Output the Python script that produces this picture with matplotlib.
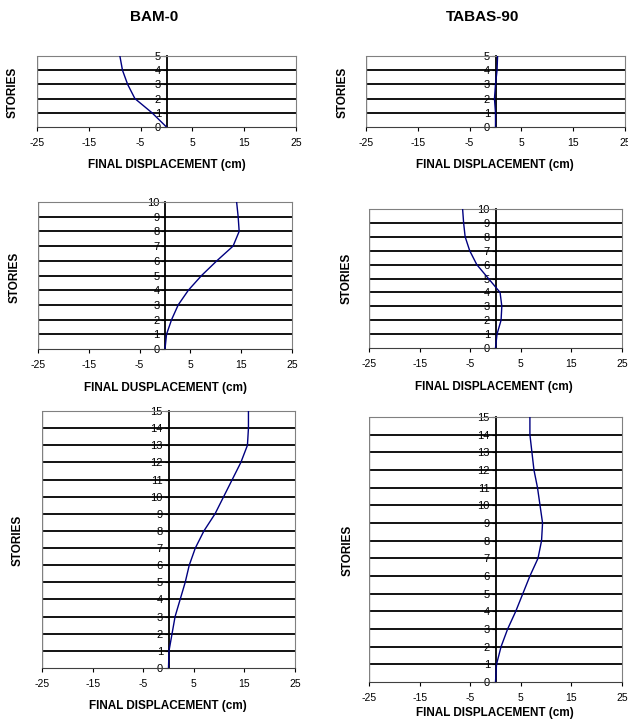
import matplotlib.pyplot as plt
import numpy as np

plt.rcParams['font.family'] = ['Liberation Sans', 'DejaVu Sans']

# story levels
stories5 = [0, 1, 2, 3, 4, 5]
stories10 = [0, 1, 2, 3, 4, 5, 6, 7, 8, 9, 10]
stories15 = [0, 1, 2, 3, 4, 5, 6, 7, 8, 9, 10, 11, 12, 13, 14, 15]

# final displacement (cm)
bam_5 = [0, -2.8, -6.1, -7.5, -8.5, -9.0]
tabas_5 = [0, 0.0, -0.2, 0.0, 0.3, 0.4]
bam_10 = [0, 0.3, 1.3, 2.6, 4.6, 7.2, 10.2, 13.4, 14.6, 14.4, 14.1]
tabas_10 = [0, 0.3, 1.1, 1.25, 0.9, -1.4, -3.7, -5.1, -6.0, -6.3, -6.5]
bam_15 = [0, 0.1, 0.7, 1.3, 2.3, 3.3, 4.1, 5.3, 7.0, 9.2, 10.9, 12.6, 14.3, 15.6, 15.8, 15.8]
tabas_15 = [0, 0.2, 1.1, 2.4, 4.0, 5.4, 6.8, 8.4, 9.1, 9.3, 8.8, 8.3, 7.6, 7.2, 6.8, 6.8]

xticks = [-25, -15, -5, 5, 15, 25]
titles = ["BAM-0", "TABAS-90"]
xlab = "FINAL DISPLACEMENT (cm)"
xlab_typo = "FINAL DUSPLACEMENT (cm)"

W, H = 628, 720
fig = plt.figure(figsize=(W / 100, H / 100), dpi=100)

# (x0, x1, ytop, ybottom) in pixels, data, stories, xlabel, (xlabel pos), (ylabel pos)
panels = [
    ((37, 296, 56, 127), bam_5, stories5, xlab, (167, 165), (13, 92)),
    ((366, 625, 56, 127), tabas_5, stories5, xlab, (495, 165), (343, 92)),
    ((38, 292, 202, 349), bam_10, stories10, xlab_typo, (165, 388), (15, 277)),
    ((369, 622, 209, 348), tabas_10, stories10, xlab, (494, 387), (347, 278)),
    ((42, 295, 411, 668), bam_15, stories15, xlab, (168, 706), (18, 540)),
    ((369, 622, 417, 682), tabas_15, stories15, xlab, (495, 713), (348, 550)),
]

for (x0, x1, yt, yb), disp, st, xl, xlpos, ylpos in panels:
    ax = fig.add_axes([x0 / W, 1 - yb / H, (x1 - x0) / W, (yb - yt) / H])
    ax.set_xlim(-25, 25)
    ax.set_ylim(0, st[-1])
    for s in st[1:-1]:
        ax.axhline(s, color='black', lw=1.3, zorder=1)
    ax.axvline(-25, color='#808080', lw=1.0)
    ax.plot(disp, st, color='#000080', lw=1.0, zorder=3)
    ax.spines['left'].set_position(('data', 0))
    ax.spines['left'].set_color('black')
    ax.spines['left'].set_linewidth(1.3)
    ax.spines['top'].set_color('#808080')
    ax.spines['right'].set_color('#808080')
    ax.spines['bottom'].set_color('#404040')
    ax.set_xticks(xticks)
    ax.set_xticklabels([str(t) for t in xticks])
    ax.set_yticks(st)
    ax.set_yticklabels([str(s) for s in st])
    ax.tick_params(axis='x', direction='out', length=3, labelsize=7.5, pad=5)
    ax.tick_params(axis='y', direction='out', length=3, labelsize=8, pad=1)
    fig.text(xlpos[0] / W, 1 - xlpos[1] / H, xl, fontsize=8.5, fontweight='bold',
             ha='center', va='center')
    fig.text(ylpos[0] / W, 1 - ylpos[1] / H, "STORIES", fontsize=8.5, fontweight='bold',
             rotation=90, ha='center', va='center')

fig.text(154 / W, 1 - 17 / H, titles[0], fontsize=11, fontweight='bold', ha='center', va='center')
fig.text(483 / W, 1 - 17 / H, titles[1], fontsize=11, fontweight='bold', ha='center', va='center')

fig.savefig("out.png", dpi=100)
